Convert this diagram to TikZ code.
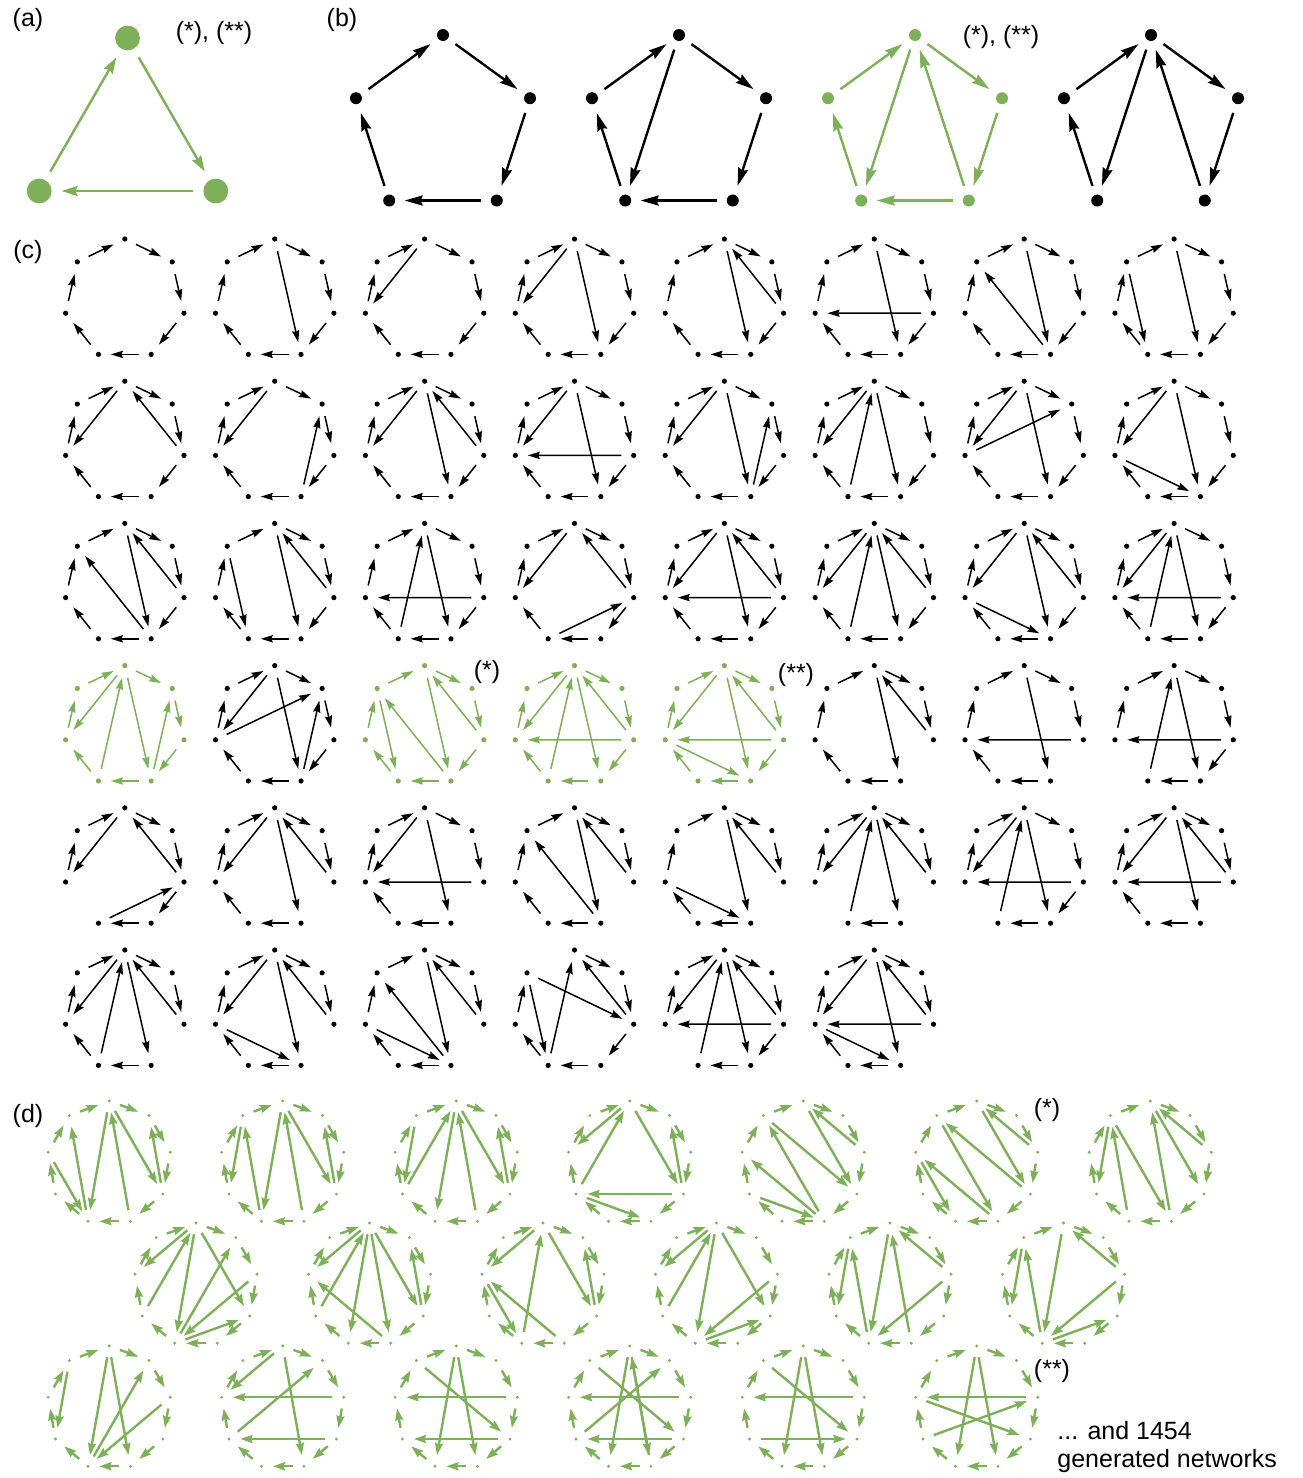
\documentclass[tikz,border=0pt]{standalone}
\usepackage{fontspec}
\setmainfont{Liberation Sans}
\usetikzlibrary{arrows.meta}

\definecolor{netgreen}{RGB}{125,176,88}

% ring of nodes with directed edges
\newcommand{\ringnet}[8]{%
  \begin{scope}[shift={#2}]
    \foreach \k in {0,...,#3}
      \node[#5dot=#6] (#1-\k) at ({-90+\k*360/(#3+1)}:#4) {};
    \edef\netedges{#7,#8}%
    \foreach \a/\b in \netedges
      \draw[#5arr=#6] (#1-\a) -- (#1-\b);
  \end{scope}}
% panel (c): 7 nodes on a grid
\newcommand{\cnet}[6]{\ringnet{#1}{({124.8+149.9*#2},{299.7+142.2*#3})}{6}{60.7}{c}{#4}{#5}{#6}}
% panel (d): 9 nodes
\newcommand{\dnet}[4]{\ringnet{#1}{#2}{8}{62}{d}{netgreen}{#3}{#4}}

\def\hc{0/1,1/2,2/3,3/4,4/5,5/6,6/0}
\def\hcb{0/1,1/2,3/4,4/5,5/6,6/0}
\def\hcd{0/1,1/2,2/3,3/4,5/6,6/0}
\def\hce{0/1,1/2,2/3,3/4,4/5,5/6}
\def\nc{0/1,1/2,2/3,3/4,4/5,5/6,6/7,7/8,8/0}

\tikzset{
  netdot/.style n args={3}{circle, inner sep=0pt, minimum size=#1,
    path picture={\fill[#3] (path picture bounding box.center) circle (#2);}},
  adot/.style={netdot={22pt}{6.2pt}{#1}},
  bdot/.style={netdot={15pt}{3pt}{#1}},
  cdot/.style={netdot={12pt}{1.3pt}{#1}},
  ddot/.style={netdot={11pt}{0.8pt}{#1}},
  aarr/.style={draw=#1, line width=1.2pt, -{Stealth[length=8pt, width=5pt, inset=1pt]}},
  barr/.style={draw=#1, line width=1.2pt, -{Stealth[length=9pt, width=5pt, inset=1pt]}},
  carr/.style={draw=#1, line width=0.75pt, -{Stealth[length=6pt, width=3.6pt, inset=0.7pt]}},
  darr/.style={draw=#1, line width=1.2pt, -{Stealth[length=6pt, width=4pt, inset=0.7pt]}},
  lbl/.style={font=\fontsize{12.5}{15}\selectfont, inner sep=0pt},
}

\begin{document}
\begin{tikzpicture}[x=0.5pt, y=-0.5pt]
  \useasboundingbox (0,0) rectangle (1302,1478);

  % (a) triangle
  \node[lbl] (la) at (28,20) {(a)};
  \ringnet{a}{(127.5,140)}{2}{102}{a}{netgreen}{0/1,1/2}{2/0}
  \node[lbl] (sa) at (214,33) {(*), (**)};

  % (b) pentagons
  \node[lbl] (lb) at (342,20) {(b)};
  \def\pc{0/1,1/2,2/3,3/4,4/0}
  \ringnet{b1}{(443,126.5)}{4}{91.5}{b}{black}{0/1,1/2,2/3,3/4}{4/0}
  \ringnet{b2}{(679,126.5)}{4}{91.5}{b}{black}{\pc}{0/3}
  \ringnet{b3}{(915,126.5)}{4}{91.5}{b}{netgreen}{\pc}{0/3,2/0}
  \ringnet{b4}{(1151,126.5)}{4}{91.5}{b}{black}{0/1,1/2,3/4,4/0}{0/3,2/0}
  \node[lbl] (sb) at (1001,37) {(*), (**)};

  % (c) seven nodes
  \node[lbl] (lc) at (28,252) {(c)};
  \cnet{c1}{0}{0}{black}{0/1,1/2,2/3,3/4,4/5,5/6}{6/0}
  \cnet{c2}{1}{0}{black}{\hc}{0/3}
  \cnet{c3}{2}{0}{black}{\hc}{0/5}
  \cnet{c4}{3}{0}{black}{\hc}{0/5,0/3}
  \cnet{c5}{4}{0}{black}{\hc}{0/3,2/0}
  \cnet{c6}{5}{0}{black}{\hc}{0/3,2/5}
  \cnet{c7}{6}{0}{black}{\hc}{0/3,3/6}
  \cnet{c8}{7}{0}{black}{\hc}{0/3,6/4}
  \cnet{c9}{0}{1}{black}{\hc}{0/5,2/0}
  \cnet{c10}{1}{1}{black}{\hc}{0/5,3/1}
  \cnet{c11}{2}{1}{black}{\hc}{0/5,0/3,2/0}
  \cnet{c12}{3}{1}{black}{\hc}{0/5,0/3,2/5}
  \cnet{c13}{4}{1}{black}{\hc}{0/5,0/3,3/1}
  \cnet{c14}{5}{1}{black}{\hc}{0/5,0/3,4/0}
  \cnet{c15}{6}{1}{black}{\hc}{0/5,0/3,5/1}
  \cnet{c16}{7}{1}{black}{\hc}{0/5,0/3,5/3}
  \cnet{c17}{0}{2}{black}{\hc}{0/3,2/0,3/6}
  \cnet{c18}{1}{2}{black}{\hc}{0/3,2/0,6/4}
  \cnet{c19}{2}{2}{black}{\hc}{0/3,4/0,2/5}
  \cnet{c20}{3}{2}{black}{\hc}{0/5,2/0,4/2}
  \cnet{c21}{4}{2}{black}{\hc}{0/5,0/3,2/0,2/5}
  \cnet{c22}{5}{2}{black}{\hc}{0/5,0/3,2/0,4/0}
  \cnet{c23}{6}{2}{black}{\hc}{0/5,0/3,2/0,5/3}
  \cnet{c24}{7}{2}{black}{\hc}{0/5,0/3,4/0,2/5}
  \cnet{c25}{0}{3}{netgreen}{\hc}{0/5,4/0,0/3,3/1}
  \cnet{c26}{1}{3}{black}{\hc}{0/5,5/1,0/3,3/1}
  \cnet{c27}{2}{3}{netgreen}{\hc}{0/3,2/0,6/4,3/6}
  \cnet{c28}{3}{3}{netgreen}{\hc}{0/5,2/0,0/3,4/0,2/5}
  \cnet{c29}{4}{3}{netgreen}{\hc}{0/5,0/3,2/0,2/5,5/3}
  \cnet{c30}{5}{3}{black}{\hcb}{0/3,2/0}
  \cnet{c31}{6}{3}{black}{\hcb}{0/3,2/5}
  \cnet{c32}{7}{3}{black}{\hcd}{2/5,0/3,4/0}
  \cnet{c33}{0}{4}{black}{\hcd}{0/5,2/0,4/2}
  \cnet{c34}{1}{4}{black}{\hcb}{0/5,0/3,2/0}
  \cnet{c35}{2}{4}{black}{\hcb}{0/5,0/3,2/5}
  \cnet{c36}{3}{4}{black}{\hcb}{0/3,2/0,3/6}
  \cnet{c37}{4}{4}{black}{\hcb}{0/3,2/0,5/3}
  \cnet{c38}{5}{4}{black}{0/1,1/2,3/4,5/6,6/0}{0/5,0/3,4/0,2/0}
  \cnet{c39}{6}{4}{black}{\hcd}{0/5,0/3,4/0,2/5}
  \cnet{c40}{7}{4}{black}{\hcb}{0/5,0/3,2/0,2/5}
  \cnet{c41}{0}{5}{black}{\hcb}{0/5,0/3,4/0,2/0}
  \cnet{c42}{1}{5}{black}{\hcb}{0/5,0/3,2/0,5/3}
  \cnet{c43}{2}{5}{black}{\hcb}{0/3,2/0,3/6,5/3}
  \cnet{c44}{3}{5}{black}{\hce}{4/0,2/0,6/2,6/4}
  \cnet{c45}{4}{5}{black}{\hcd}{0/5,0/3,4/0,2/0,2/5}
  \cnet{c46}{5}{5}{black}{\hcb}{0/5,0/3,2/0,2/5,5/3}
  \node[lbl] (sc1) at (487,672) {(*)};
  \node[lbl] (sc2) at (796,675) {(**)};

  % (d) nine nodes
  \node[lbl] (ld) at (28,1116) {(d)};
  \dnet{d1}{(109.2,1163)}{\nc}{5/8,0/5,4/0,0/3,3/1,7/5}
  \dnet{d2}{(282.7,1163)}{\nc}{8/6,5/8,0/5,4/0,0/3,3/1}
  \dnet{d3}{(456.2,1163)}{\nc}{8/6,6/0,0/5,4/0,0/3,3/1}
  \dnet{d4}{(629.7,1163)}{\nc}{0/7,0/3,3/1,3/6,6/4,6/0}
  \dnet{d5}{(803.2,1163)}{\nc}{2/0,0/3,4/8,8/3,4/7,6/4}
  \dnet{d6}{(976.7,1163)}{\nc}{2/0,0/3,8/4,3/8,4/7,7/5}
  \dnet{d7}{(1150.2,1163)}{\nc}{2/0,0/3,8/6,5/8,8/4,4/0}
  \dnet{d8}{(196,1285)}{\nc}{0/7,6/0,0/5,0/3,5/1,2/5,5/3}
  \dnet{d9}{(369.5,1285)}{\nc}{0/7,3/1,6/0,0/5,0/4,0/3,4/7}
  \dnet{d10}{(543,1285)}{\nc}{0/7,3/1,0/3,5/0,7/5,4/7}
  \dnet{d11}{(716.5,1285)}{\nc}{0/7,6/0,0/5,0/3,2/5,5/3}
  \dnet{d12}{(890,1285)}{\nc}{2/0,8/6,0/5,5/8,4/0,2/5}
  \dnet{d13}{(1063.5,1285)}{\nc}{2/0,8/6,5/8,0/5,5/3,2/5}
  \dnet{d14}{(109.2,1408)}{\nc}{8/6,0/5,5/1,0/4,2/5}
  \dnet{d15}{(282.7,1408)}{\nc}{2/7,3/6,0/7,0/4,6/1}
  \dnet{d16}{(456.2,1408)}{\nc}{2/7,0/5,0/4,8/3,3/6}
  \dnet{d17}{(629.7,1408)}{\nc}{2/7,0/5,0/4,4/0,8/3,6/1,3/6}
  \dnet{d18}{(803.2,1408)}{\nc}{2/7,0/5,0/4,6/3,8/3}
  \dnet{d19}{(976.7,1408)}{\nc}{2/7,7/3,6/2,0/5,0/4}
  \node[lbl] (sd1) at (1047,1110) {(*)};
  \node[lbl] (sd2) at (1052,1371) {(**)};
  \node[lbl, anchor=west] (more) at (1057,1431) {... and 1454};
  \node[lbl, anchor=west] (gen) at (1057,1461) {generated networks};
\end{tikzpicture}
\end{document}
